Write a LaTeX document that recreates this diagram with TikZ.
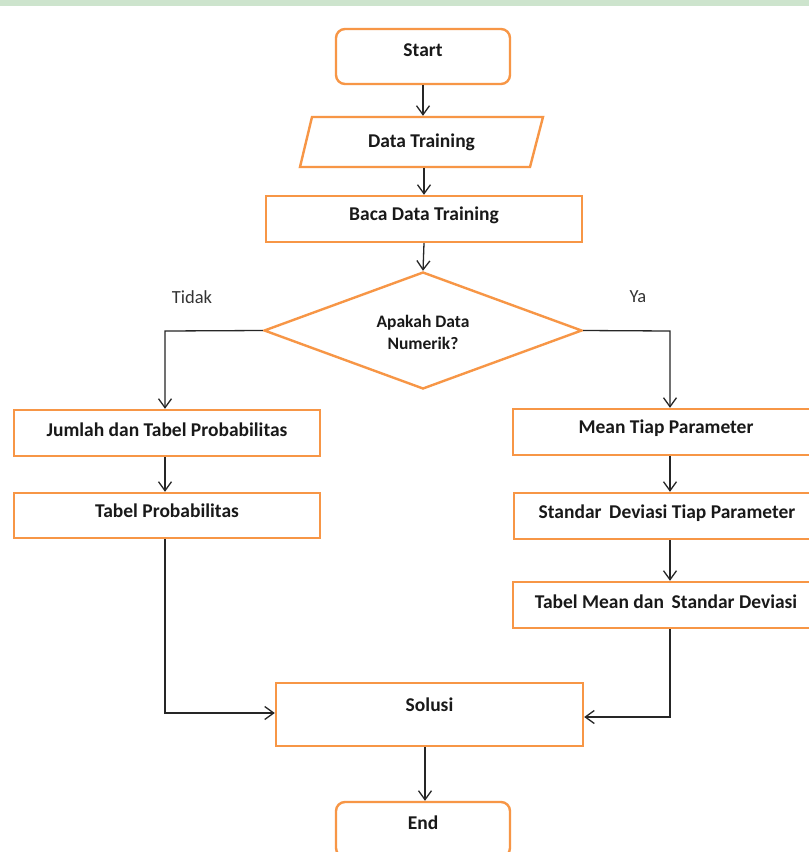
\documentclass[tikz,border=0pt]{standalone}
\usepackage{fontspec}
\setmainfont{Carlito}
\usetikzlibrary{shapes.geometric,arrows.meta}
\definecolor{orng}{RGB}{247,150,70}
\definecolor{wmgreen}{RGB}{205,228,205}
\begin{document}
\begin{tikzpicture}[x=1pt,y=-1pt,
  shapebox/.style={draw=orng, line width=2.4pt, fill=white, inner sep=0pt},
  roundbox/.style={shapebox, rounded corners=9pt},
  txt/.style={font=\bfseries\fontsize{19.5}{22}\selectfont, text=black!90, inner sep=0pt, align=center},
  lbl/.style={font=\fontsize{18.5}{20}\selectfont, text=black!80, inner sep=0pt},
  conn/.style={draw=black!85, line width=1.3pt, -{Straight Barb[length=9pt,width=13pt,line width=1.3pt]}}]
\useasboundingbox (0,0) rectangle (809,852);
\clip (0,0) rectangle (809,852);
\fill[white] (0,0) rectangle (809,852);
\fill[wmgreen] (0,0) rectangle (809,6);

% shapes
\node[roundbox, minimum width=174pt, minimum height=55pt] (start) at (423,56.5) {};
\node[txt] (startT) at (423,50) {Start};

\node[inner sep=0pt, outer sep=1.2pt, minimum width=243pt, minimum height=50pt] (data) at (421.5,142) {};
\draw[draw=orng, line width=2.4pt, fill=white, line join=miter] (312,117) -- (543,117) -- (530,167) -- (300,167) -- cycle;
\node[txt] (dataT) at (421.5,142) {Data Training};

\node[shapebox, minimum width=316pt, minimum height=46pt] (baca) at (424,219) {};
\node[txt] (bacaT) at (424,215) {Baca Data Training};

\node[shapebox, diamond, minimum width=318pt, minimum height=117pt] (dec) at (423,330.5) {};
\node[txt, font=\bfseries\fontsize{17.5}{22}\selectfont] (decT) at (423,332) {Apakah Data\\Numerik?};

\node[shapebox, minimum width=306pt, minimum height=46pt] (jum) at (167,433) {};
\node[txt] (jumT) at (167,430) {Jumlah dan Tabel Probabilitas};

\node[shapebox, minimum width=306pt, minimum height=45pt] (tab) at (167,515.5) {};
\node[txt] (tabT) at (167,511) {Tabel Probabilitas};

\node[shapebox, minimum width=306pt, minimum height=46pt] (mean) at (666,432) {};
\node[txt] (meanT) at (666,428) {Mean Tiap Parameter};

\node[shapebox, minimum width=306pt, minimum height=46pt] (std) at (667,516) {};
\node[txt] (stdT) at (667,513) {Standar \,Deviasi Tiap Parameter};

\node[shapebox, minimum width=306pt, minimum height=46pt] (tmean) at (666,605) {};
\node[txt] (tmeanT) at (666,602) {Tabel Mean dan \,Standar Deviasi};

\node[shapebox, minimum width=307pt, minimum height=63pt] (sol) at (429.5,714.5) {};
\node[txt] (solT) at (429.5,705) {Solusi};

\node[roundbox, minimum width=174pt, minimum height=55pt] (end) at (423,829.5) {};
\node[txt] (endT) at (423,823) {End};

% labels
\node[lbl] (tidak) at (192,297) {Tidak};
\node[lbl] (ya) at (638,297) {Ya};

% connectors
\coordinate (cL) at (165,331);
\coordinate (cR) at (670,331);
\coordinate (cL2) at (165,713);
\coordinate (cR2) at (670,717);
\coordinate (mx) at (424,0);
\coordinate (ex) at (425,0);
\draw[conn] (start.south) -- (start.south |- data.north);
\draw[conn] (data.south -| mx) -- (mx |- baca.north);
\draw[conn] (baca.south -| mx) -- (dec.north);
\draw[conn] (dec.west) -- (cL) -- (cL |- jum.north);
\draw[conn] (dec.east) -- (cR) -- (cR |- mean.north);
\draw[conn] (jum.south -| cL) -- (cL |- tab.north);
\draw[conn] (mean.south -| cR) -- (cR |- std.north);
\draw[conn] (std.south -| cR) -- (cR |- tmean.north);
\draw[conn] (tab.south -| cL) -- (cL2) -- (cL2 -| sol.west);
\draw[conn] (tmean.south -| cR) -- (cR2) -- (cR2 -| sol.east);
\draw[conn] (sol.south -| ex) -- (ex |- end.north);
\end{tikzpicture}
\end{document}
